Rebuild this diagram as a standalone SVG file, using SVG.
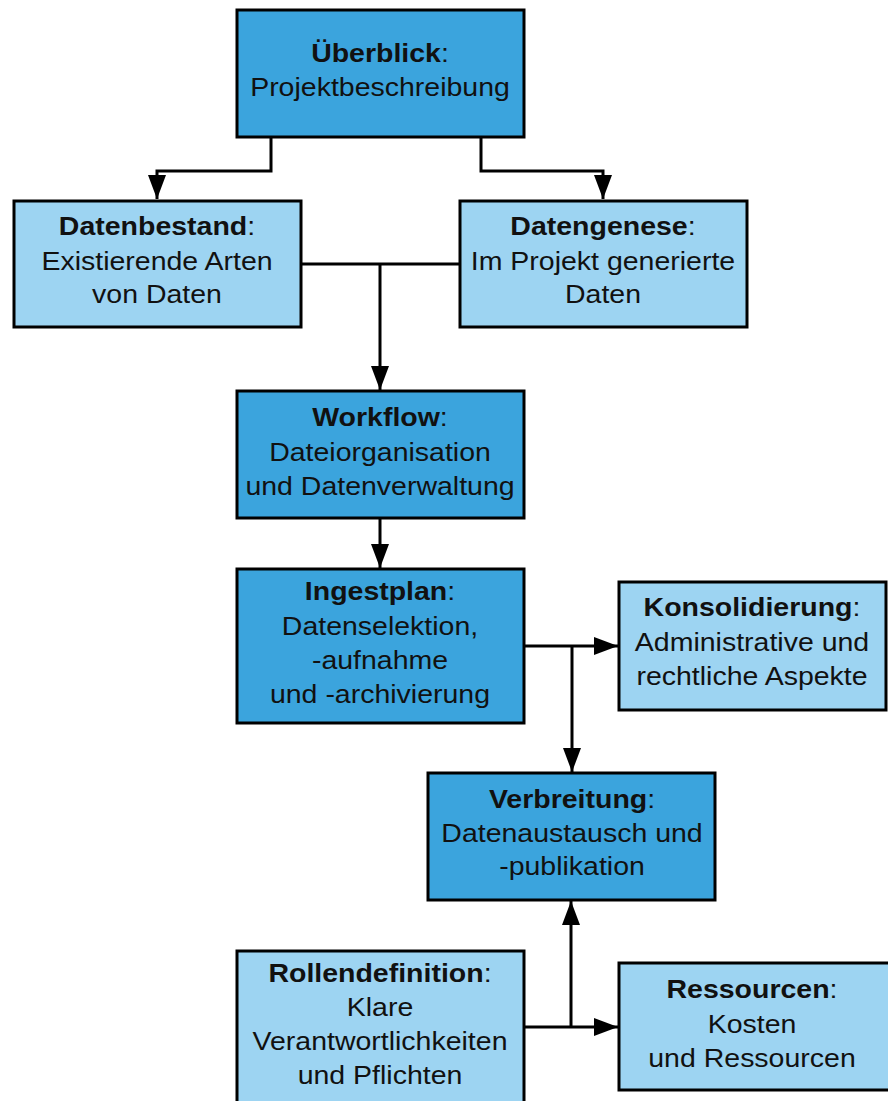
<svg xmlns="http://www.w3.org/2000/svg" width="888" height="1101" viewBox="0 0 888 1101">
<style>
.dark{fill:#3ba4dd;stroke:#000;stroke-width:3}
.light{fill:#9dd4f2;stroke:#000;stroke-width:3}
text{font-family:"Liberation Sans",Arial,sans-serif;font-size:25px;fill:#111;text-anchor:middle}
.b{font-weight:bold}
.con{fill:none;stroke:#000;stroke-width:3}
</style>
<defs>
<marker id="arr" markerUnits="userSpaceOnUse" markerWidth="24" markerHeight="18" viewBox="0 0 24 18" refX="24" refY="9" orient="auto">
<path d="M0,0 L24,9 L0,18 z" fill="#000"/>
</marker>
</defs>
<rect width="888" height="1101" fill="#fff"/>
<g id="connectors">
<path class="con" d="M271,137 V171 H157 V199" marker-end="url(#arr)"/>
<path class="con" d="M481,137 V171 H603 V199" marker-end="url(#arr)"/>
<path class="con" d="M301,264 H460"/>
<path class="con" d="M380,264 V390" marker-end="url(#arr)"/>
<path class="con" d="M380,518 V568" marker-end="url(#arr)"/>
<path class="con" d="M524,646 H618" marker-end="url(#arr)"/>
<path class="con" d="M572,646 V772" marker-end="url(#arr)"/>
<path class="con" d="M523,1027 H618" marker-end="url(#arr)"/>
<path class="con" d="M571,1027 V901" marker-end="url(#arr)"/>
</g>
<g id="ueberblick">
<rect class="dark" x="237" y="10" width="287" height="127"/>
<g transform="translate(380 0) scale(1.14 1)"><text x="0" y="62"><tspan class="b">Überblick</tspan>:</text><text x="0" y="96">Projektbeschreibung</text></g>
</g>
<g id="datenbestand">
<rect class="light" x="14" y="201" width="287" height="126"/>
<g transform="translate(157 0) scale(1.14 1)"><text x="0" y="235"><tspan class="b">Datenbestand</tspan>:</text><text x="0" y="270">Existierende Arten</text><text x="0" y="303">von Daten</text></g>
</g>
<g id="datengenese">
<rect class="light" x="460" y="201" width="287" height="126"/>
<g transform="translate(603 0) scale(1.14 1)"><text x="0" y="235"><tspan class="b">Datengenese</tspan>:</text><text x="0" y="270">Im Projekt generierte</text><text x="0" y="303">Daten</text></g>
</g>
<g id="workflow">
<rect class="dark" x="237" y="391" width="287" height="127"/>
<g transform="translate(380 0) scale(1.14 1)"><text x="0" y="426"><tspan class="b">Workflow</tspan>:</text><text x="0" y="461">Dateiorganisation</text><text x="0" y="495">und Datenverwaltung</text></g>
</g>
<g id="ingestplan">
<rect class="dark" x="237" y="569" width="287" height="154"/>
<g transform="translate(380 0) scale(1.14 1)"><text x="0" y="600"><tspan class="b">Ingestplan</tspan>:</text><text x="0" y="635">Datenselektion,</text><text x="0" y="669">-aufnahme</text><text x="0" y="703">und -archivierung</text></g>
</g>
<g id="konsolidierung">
<rect class="light" x="619" y="582" width="267" height="128"/>
<g transform="translate(752 0) scale(1.14 1)"><text x="0" y="616"><tspan class="b">Konsolidierung</tspan>:</text><text x="0" y="651">Administrative und</text><text x="0" y="685">rechtliche Aspekte</text></g>
</g>
<g id="verbreitung">
<rect class="dark" x="428" y="773" width="287" height="127"/>
<g transform="translate(572 0) scale(1.14 1)"><text x="0" y="808"><tspan class="b">Verbreitung</tspan>:</text><text x="0" y="842">Datenaustausch und</text><text x="0" y="875">-publikation</text></g>
</g>
<g id="rollendefinition">
<rect class="light" x="237" y="951" width="287" height="170"/>
<g transform="translate(380 0) scale(1.14 1)"><text x="0" y="982"><tspan class="b">Rollendefinition</tspan>:</text><text x="0" y="1016">Klare</text><text x="0" y="1050">Verantwortlichkeiten</text><text x="0" y="1084">und Pflichten</text></g>
</g>
<g id="ressourcen">
<rect class="light" x="619" y="963" width="290" height="127"/>
<g transform="translate(752 0) scale(1.14 1)"><text x="0" y="998"><tspan class="b">Ressourcen</tspan>:</text><text x="0" y="1033">Kosten</text><text x="0" y="1067">und Ressourcen</text></g>
</g>
</svg>
